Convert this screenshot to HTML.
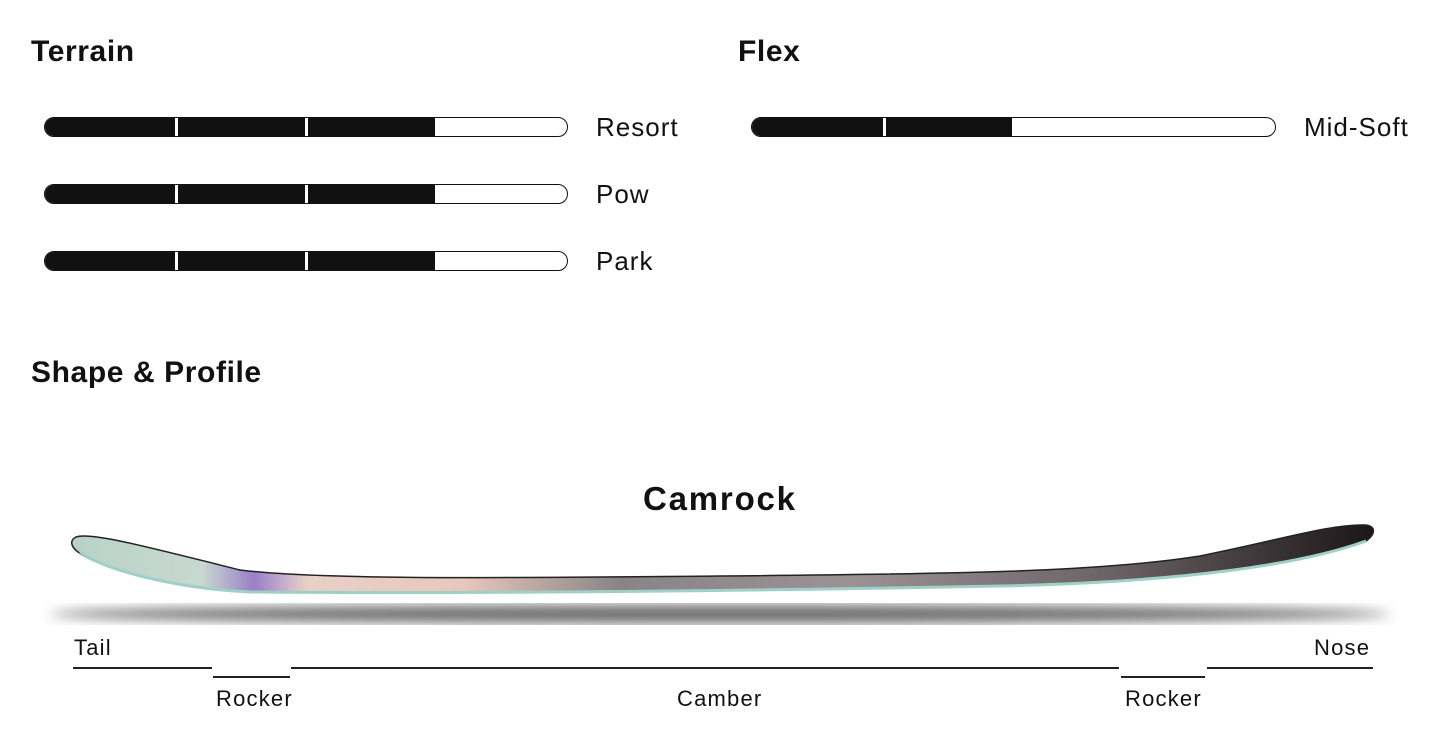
<!DOCTYPE html>
<html><head><meta charset="utf-8"><style>
html,body{margin:0;padding:0;background:#fff;}
body{width:1445px;height:743px;position:relative;overflow:hidden;font-family:"Liberation Sans",sans-serif;color:#111;}
.h{position:absolute;font-weight:bold;font-size:30px;letter-spacing:0.6px;}
.lbl{position:absolute;font-size:26px;letter-spacing:1px;color:#111;}
.bar{position:absolute;height:18px;border:1.5px solid #111;border-radius:11px;background:#fff;overflow:hidden;}
.fill{position:absolute;left:0;top:0;bottom:0;background:#111;}
.tick{position:absolute;top:0;bottom:0;width:3px;background:#fff;}
.ln{position:absolute;height:2px;background:#222;}
.sm{position:absolute;font-size:22px;letter-spacing:1.2px;color:#111;}
</style></head><body>
<div class="h" style="left:31px;top:35px">Terrain</div>
<div class="h" style="left:738px;top:35px">Flex</div>
<div class="h" style="left:31px;top:356px">Shape &amp; Profile</div>

<div class="bar" style="left:44px;top:117px;width:522px"><div class="fill" style="width:390px"></div><div class="tick" style="left:130px"></div><div class="tick" style="left:260px"></div></div>
<div class="lbl" style="left:596px;top:112px">Resort</div>
<div class="bar" style="left:44px;top:184px;width:522px"><div class="fill" style="width:390px"></div><div class="tick" style="left:130px"></div><div class="tick" style="left:260px"></div></div>
<div class="lbl" style="left:596px;top:179px">Pow</div>
<div class="bar" style="left:44px;top:251px;width:522px"><div class="fill" style="width:390px"></div><div class="tick" style="left:130px"></div><div class="tick" style="left:260px"></div></div>
<div class="lbl" style="left:596px;top:246px">Park</div>

<div class="bar" style="left:751px;top:117px;width:523px"><div class="fill" style="width:260px"></div><div class="tick" style="left:131px"></div></div>
<div class="lbl" style="left:1304px;top:112px">Mid-Soft</div>

<div class="h" style="left:643px;top:480px;font-size:33px;letter-spacing:1.8px">Camrock</div>

<svg style="position:absolute;left:0;top:0" width="1445" height="743">
<defs>
<linearGradient id="g" x1="0" x2="1" y1="0" y2="0">
<stop offset="0" stop-color="#b8d2c8"/><stop offset="0.1" stop-color="#c8d8d0"/>
<stop offset="0.14" stop-color="#9a7fc8"/><stop offset="0.18" stop-color="#e8d0c8"/>
<stop offset="0.3" stop-color="#e8c8bc"/><stop offset="0.42" stop-color="#8a8486"/>
<stop offset="0.6" stop-color="#9a9294"/><stop offset="0.8" stop-color="#6a6264"/>
<stop offset="1" stop-color="#1c1618"/>
</linearGradient>
<filter id="b"><feGaussianBlur stdDeviation="6"/></filter>
</defs>
<ellipse cx="720" cy="614" rx="670" ry="9" fill="#444" filter="url(#b)" opacity="0.8"/>
<path d="M76,537 C90,532 140,545 240,570 C320,580 500,578 720,576 C950,574 1100,572 1200,556 C1280,540 1330,524 1365,525 C1378,526 1374,536 1366,541 C1300,565 1180,582 1000,586 C800,590 500,594 250,592 C170,588 100,568 78,552 C70,546 70,540 76,537 Z" fill="url(#g)" stroke="#222" stroke-width="1.5"/>
<path d="M80,552 C100,568 170,588 250,592 C500,594 800,590 1000,586 C1180,582 1300,565 1366,541" fill="none" stroke="#9fd0c8" stroke-width="3"/>
</svg>

<div class="sm" style="left:74px;top:635px">Tail</div>
<div class="sm" style="left:1314px;top:635px">Nose</div>
<div class="ln" style="left:73px;top:667px;width:139px"></div>
<div class="ln" style="left:213px;top:676px;width:77px"></div>
<div class="ln" style="left:291px;top:667px;width:828px"></div>
<div class="ln" style="left:1121px;top:676px;width:84px"></div>
<div class="ln" style="left:1207px;top:667px;width:166px"></div>
<div class="sm" style="left:216px;top:686px">Rocker</div>
<div class="sm" style="left:677px;top:686px">Camber</div>
<div class="sm" style="left:1125px;top:686px">Rocker</div>
</body></html>
